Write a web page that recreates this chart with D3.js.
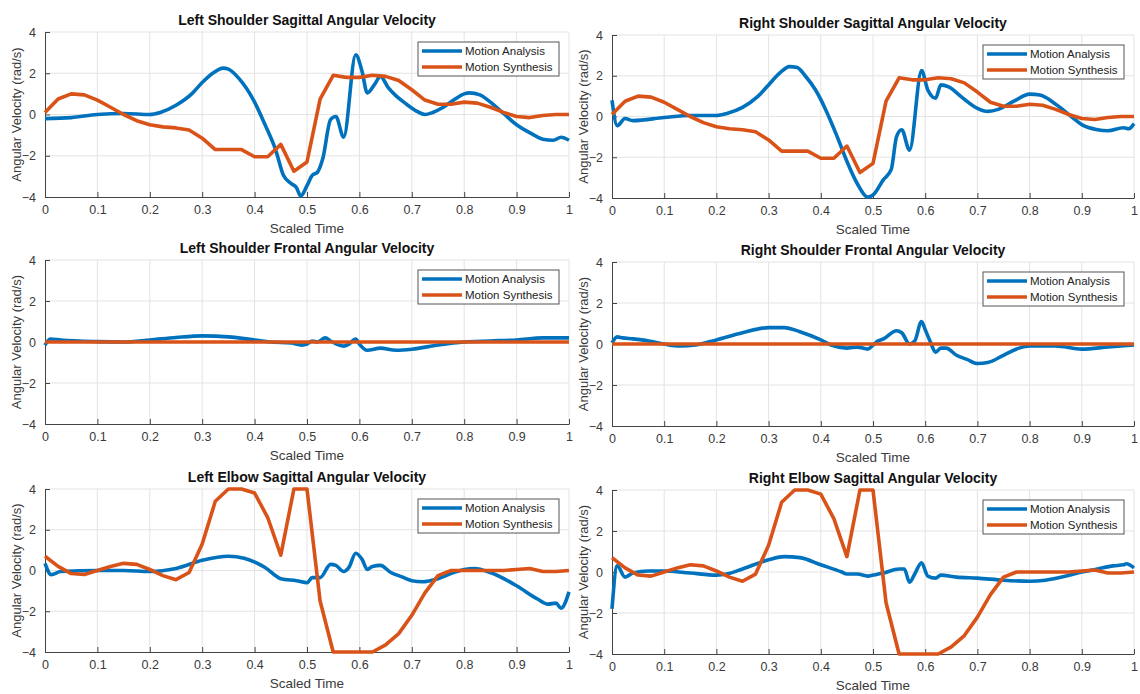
<!DOCTYPE html>
<html>
<head>
<meta charset="utf-8">
<script src="https://cdn.jsdelivr.net/npm/d3@7"></script>
<style>
  html, body { margin: 0; padding: 0; background: #fff; }
  svg { display: block; font-family: "Liberation Sans", Arial, Helvetica, sans-serif; }
</style>
</head>
<body>
<div id="chart"></div>
<script>
// tick values
const X_TICKS = [0, 0.1, 0.2, 0.3, 0.4, 0.5, 0.6, 0.7, 0.8, 0.9, 1];
const Y_TICKS = [-4, -2, 0, 2, 4];

const SERIES_NAMES = ['Motion Analysis', 'Motion Synthesis'];

// synthesis samples share one time grid
const synthTime = [0, 0.025, 0.05, 0.075, 0.1, 0.125, 0.15, 0.175, 0.2, 0.225, 0.25, 0.275, 0.3, 0.325, 0.35,
  0.375, 0.4, 0.425, 0.45, 0.475, 0.5, 0.525, 0.55, 0.575, 0.6, 0.625, 0.65, 0.675, 0.7, 0.725, 0.75,
  0.775, 0.8, 0.825, 0.85, 0.875, 0.9, 0.925, 0.95, 0.975, 1];

const shoulderSagSynth = [0.1, 0.75, 1.0, 0.95, 0.7, 0.35, 0.0, -0.3, -0.5, -0.6, -0.65, -0.75, -1.15, -1.7, -1.7,
  -1.7, -2.05, -2.05, -1.45, -2.75, -2.3, 0.75, 1.9, 1.8, 1.8, 1.9, 1.85, 1.65, 1.2, 0.7, 0.5,
  0.5, 0.6, 0.55, 0.35, 0.1, -0.1, -0.15, -0.05, 0.0, 0.0];

const shoulderFrontSynth = [0, 0, 0, 0, 0, 0, 0, 0, 0, 0, 0, 0, 0, 0, 0,
  0, 0, 0, 0, 0, 0, 0, 0, 0, 0, 0, 0, 0, 0, 0, 0,
  0, 0, 0, 0, 0, 0, 0, 0, 0, 0];

const elbowSagSynth = [0.7, 0.2, -0.15, -0.2, 0.0, 0.2, 0.35, 0.3, 0.05, -0.25, -0.45, -0.1, 1.3, 3.4, 4.0,
  4.0, 3.8, 2.6, 0.75, 4.0, 4.0, -1.5, -4.0, -4.0, -4.0, -4.0, -3.65, -3.1, -2.2, -1.1, -0.25,
  0.0, 0.0, 0.0, 0.0, 0.0, 0.05, 0.1, -0.05, -0.05, 0.0];

// motion analysis: [scaled time, rad/s]
const leftShoulderSag = [[0, -0.2], [0.05, -0.15], [0.1, 0.0], [0.15, 0.05], [0.2, 0.0], [0.22, 0.1], [0.25, 0.45],
  [0.28, 1.0], [0.3, 1.55], [0.32, 2.0], [0.34, 2.25], [0.35, 2.2], [0.37, 1.75], [0.4, 0.6], [0.42, -0.5],
  [0.44, -1.7], [0.455, -2.95], [0.47, -3.35], [0.48, -3.55], [0.488, -3.95], [0.5, -3.45], [0.51, -2.95],
  [0.52, -2.8], [0.53, -2.15], [0.545, -0.25], [0.555, -0.1], [0.57, -1.1], [0.593, 2.9], [0.605, 2.1],
  [0.615, 1.05], [0.63, 1.5], [0.64, 1.85], [0.655, 1.3], [0.67, 0.9], [0.69, 0.5], [0.71, 0.15], [0.725, 0.0],
  [0.74, 0.1], [0.76, 0.35], [0.78, 0.7], [0.8, 1.0], [0.81, 1.05], [0.83, 0.95], [0.85, 0.6], [0.875, 0.05],
  [0.9, -0.5], [0.93, -0.95], [0.95, -1.2], [0.97, -1.25], [0.985, -1.1], [1, -1.25]];

const rightShoulderSag = [[0, 0.8], [0.01, -0.45], [0.025, -0.1], [0.04, -0.2], [0.1, -0.05], [0.15, 0.05],
  [0.2, 0.05], [0.22, 0.15], [0.25, 0.45], [0.28, 1.0], [0.3, 1.55], [0.32, 2.1], [0.34, 2.45], [0.355, 2.4],
  [0.37, 2.0], [0.39, 1.3], [0.41, 0.3], [0.43, -0.9], [0.45, -2.2], [0.47, -3.3], [0.49, -3.95], [0.5, -3.85],
  [0.52, -3.1], [0.535, -2.6], [0.545, -1.0], [0.555, -0.65], [0.57, -1.65], [0.593, 2.25], [0.605, 1.3],
  [0.62, 0.9], [0.63, 1.55], [0.645, 1.45], [0.67, 0.95], [0.7, 0.4], [0.72, 0.25], [0.74, 0.35], [0.77, 0.75],
  [0.8, 1.1], [0.82, 1.05], [0.85, 0.6], [0.88, 0.0], [0.9, -0.4], [0.93, -0.65], [0.95, -0.7], [0.98, -0.55],
  [0.99, -0.6], [1, -0.35]];

const leftShoulderFront = [[0, -0.15], [0.01, 0.15], [0.03, 0.1], [0.1, 0.02], [0.15, 0.0], [0.2, 0.1], [0.25, 0.22],
  [0.3, 0.3], [0.35, 0.25], [0.4, 0.1], [0.43, 0.0], [0.47, -0.05], [0.49, -0.15], [0.5, -0.1], [0.51, 0.05],
  [0.52, 0.0], [0.535, 0.2], [0.545, 0.05], [0.57, -0.2], [0.58, -0.1], [0.593, 0.15], [0.6, -0.1], [0.615, -0.4],
  [0.64, -0.3], [0.67, -0.4], [0.7, -0.35], [0.75, -0.15], [0.8, 0.0], [0.85, 0.05], [0.9, 0.1], [0.95, 0.2],
  [1, 0.2]];

const rightShoulderFront = [[0, 0.05], [0.01, 0.35], [0.02, 0.3], [0.04, 0.25], [0.07, 0.15], [0.1, 0.0], [0.13, -0.1],
  [0.16, -0.05], [0.2, 0.2], [0.25, 0.55], [0.3, 0.8], [0.33, 0.8], [0.36, 0.6], [0.4, 0.2], [0.42, -0.05],
  [0.45, -0.2], [0.47, -0.15], [0.49, -0.25], [0.5, -0.05], [0.51, 0.15], [0.52, 0.25], [0.545, 0.65],
  [0.555, 0.55], [0.57, 0.0], [0.58, 0.15], [0.593, 1.1], [0.6, 0.7], [0.61, 0.1], [0.62, -0.4], [0.63, -0.2],
  [0.64, -0.2], [0.66, -0.55], [0.68, -0.75], [0.7, -0.95], [0.72, -0.9], [0.75, -0.55], [0.78, -0.2],
  [0.8, -0.1], [0.85, -0.1], [0.9, -0.25], [0.95, -0.15], [1, -0.05]];

const leftElbowSag = [[0, 0.35], [0.012, -0.2], [0.03, -0.05], [0.1, 0.0], [0.15, 0.0], [0.2, -0.05], [0.25, 0.1],
  [0.3, 0.5], [0.35, 0.7], [0.38, 0.6], [0.42, 0.15], [0.45, -0.4], [0.48, -0.5], [0.5, -0.6], [0.51, -0.35],
  [0.525, -0.35], [0.545, 0.3], [0.555, 0.25], [0.57, -0.05], [0.58, 0.15], [0.593, 0.85], [0.605, 0.55],
  [0.615, 0.05], [0.625, 0.2], [0.64, 0.25], [0.66, -0.1], [0.68, -0.3], [0.7, -0.5], [0.72, -0.55], [0.75, -0.4],
  [0.78, -0.1], [0.8, 0.05], [0.82, 0.1], [0.85, -0.1], [0.9, -0.75], [0.94, -1.4], [0.96, -1.65], [0.975, -1.6],
  [0.985, -1.85], [1, -1.05]];

const rightElbowSag = [[0, -1.8], [0.01, 0.3], [0.025, -0.25], [0.04, -0.05], [0.07, 0.05], [0.1, 0.05], [0.15, -0.05],
  [0.2, -0.15], [0.22, -0.1], [0.25, 0.15], [0.3, 0.6], [0.33, 0.75], [0.36, 0.7], [0.4, 0.35], [0.44, 0.0],
  [0.45, -0.1], [0.47, -0.1], [0.49, -0.2], [0.5, -0.15], [0.52, -0.05], [0.55, 0.15], [0.56, 0.15], [0.57, -0.5],
  [0.58, -0.1], [0.593, 0.45], [0.605, -0.2], [0.62, -0.3], [0.63, -0.15], [0.66, -0.25], [0.7, -0.3],
  [0.75, -0.4], [0.8, -0.45], [0.83, -0.4], [0.87, -0.2], [0.9, 0.0], [0.93, 0.15], [0.96, 0.3], [0.98, 0.35],
  [0.985, 0.4], [1, 0.2]];

const panels = [
  { title: 'Left Shoulder Sagittal Angular Velocity', analysis: leftShoulderSag, synth: shoulderSagSynth, box: [45, 569, 32, 197] },
  { title: 'Right Shoulder Sagittal Angular Velocity', analysis: rightShoulderSag, synth: shoulderSagSynth, box: [612, 1134, 35, 198] },
  { title: 'Left Shoulder Frontal Angular Velocity', analysis: leftShoulderFront, synth: shoulderFrontSynth, box: [45, 569, 260, 424] },
  { title: 'Right Shoulder Frontal Angular Velocity', analysis: rightShoulderFront, synth: shoulderFrontSynth, box: [612, 1134, 262, 426] },
  { title: 'Left Elbow Sagittal Angular Velocity', analysis: leftElbowSag, synth: elbowSagSynth, box: [45, 569, 489, 652] },
  { title: 'Right Elbow Sagittal Angular Velocity', analysis: rightElbowSag, synth: elbowSagSynth, box: [612, 1134, 490, 654] }
];

const COLORS = ['#0072BD', '#D95319'];
const TEXT = '#3a3a3a';

const svg = d3.select('#chart').append('svg')
  .attr('width', 1140).attr('height', 694);

panels.forEach(p => {
  const [x0, x1, y0, y1] = p.box;
  const x = d3.scaleLinear().domain([0, 1]).range([x0, x1]);
  const y = d3.scaleLinear().domain([-4, 4]).range([y1, y0]);
  const g = svg.append('g');

  // grid
  g.append('g').selectAll('line').data(X_TICKS.slice(1)).join('line')
    .attr('x1', d => x(d)).attr('x2', d => x(d)).attr('y1', y0).attr('y2', y1)
    .attr('stroke', '#e3e3e3').attr('stroke-width', 1);
  g.append('g').selectAll('line').data(Y_TICKS.slice(1)).join('line')
    .attr('x1', x0).attr('x2', x1).attr('y1', d => y(d)).attr('y2', d => y(d))
    .attr('stroke', '#e3e3e3').attr('stroke-width', 1);

  // axes, ticks pointing inward like matlab
  const xAxis = g.append('g').attr('transform', `translate(0,${y1})`)
    .call(d3.axisBottom(x).tickValues(X_TICKS).tickSizeInner(-5).tickSizeOuter(0).tickPadding(8).tickFormat(d3.format('~g')));
  const yAxis = g.append('g').attr('transform', `translate(${x0},0)`)
    .call(d3.axisLeft(y).tickValues(Y_TICKS).tickSizeInner(-5).tickSizeOuter(0).tickPadding(9));
  [xAxis, yAxis].forEach(a => {
    a.select('.domain').attr('stroke', '#444');
    a.selectAll('.tick line').attr('stroke', '#444');
    a.selectAll('text').attr('fill', TEXT).attr('font-size', '12.5px')
      .attr('font-family', '"Liberation Sans", Arial, sans-serif');
  });

  // lines
  const blueLine = d3.line().x(d => x(d[0])).y(d => y(d[1])).curve(d3.curveMonotoneX);
  const orangeLine = d3.line().x((d, i) => x(synthTime[i])).y(d => y(d));
  g.append('path').datum(p.analysis).attr('d', blueLine)
    .attr('fill', 'none').attr('stroke', COLORS[0]).attr('stroke-width', 3.6)
    .attr('stroke-linejoin', 'round');
  g.append('path').datum(p.synth).attr('d', orangeLine)
    .attr('fill', 'none').attr('stroke', COLORS[1]).attr('stroke-width', 3.6)
    .attr('stroke-linejoin', 'round');

  // title + labels
  g.append('text').attr('x', (x0 + x1) / 2).attr('y', y0 - 7)
    .attr('text-anchor', 'middle').attr('font-size', '14px').attr('font-weight', 'bold')
    .attr('fill', '#111').text(p.title);
  g.append('text').attr('x', (x0 + x1) / 2).attr('y', y1 + 36)
    .attr('text-anchor', 'middle').attr('font-size', '13.5px').attr('fill', TEXT).text('Scaled Time');
  g.append('text')
    .attr('transform', `translate(${x0 - 24},${(y0 + y1) / 2}) rotate(-90)`)
    .attr('text-anchor', 'middle').attr('font-size', '13px').attr('fill', TEXT)
    .text('Angular Velocity (rad/s)');

  // legend
  const lw = 141, lh = 34;
  const lx = x1 - 10 - lw, ly = y0 + 10;
  const leg = g.append('g').attr('transform', `translate(${lx},${ly})`);
  leg.append('rect').attr('width', lw).attr('height', lh)
    .attr('fill', '#fff').attr('stroke', '#555').attr('stroke-width', 1);
  SERIES_NAMES.forEach((name, i) => {
    const cy = 9 + i * 16;
    leg.append('line').attr('x1', 4).attr('x2', 44).attr('y1', cy).attr('y2', cy)
      .attr('stroke', COLORS[i]).attr('stroke-width', 3.6);
    leg.append('text').attr('x', 47).attr('y', cy + 4)
      .attr('font-size', '11.5px').attr('fill', '#222').text(name);
  });
});
</script>
</body>
</html>
